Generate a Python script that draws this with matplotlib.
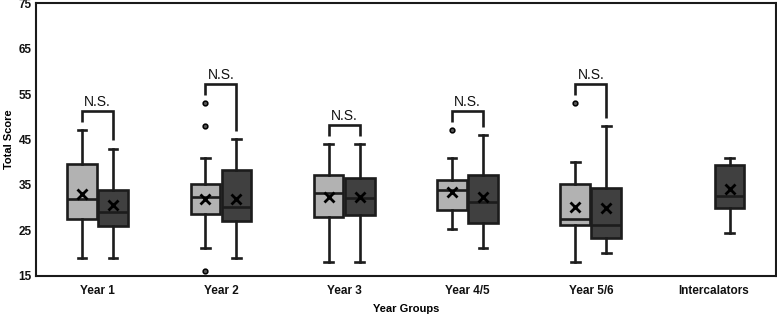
import matplotlib
matplotlib.use("Agg")
import matplotlib.pyplot as plt
import numpy as np

plt.rcParams['font.family'] = ['Liberation Sans', 'DejaVu Sans']

categories = ["Year 1", "Year 2", "Year 3", "Year 4/5", "Year 5/6", "Intercalators"]

# Light (first cohort) box statistics, None where absent
light_lo   = [19, 21, 18, 25.3, 18, None]
light_q1   = [27.6, 28.7, 28.0, 29.4, 26.2, None]
light_med  = [32.0, 32.3, 33.2, 33.8, 27.6, None]
light_q3   = [39.7, 35.2, 37.1, 36.0, 35.1, None]
light_hi   = [47, 41, 44, 41, 40, None]
light_mean = [32.9, 31.9, 32.4, 33.5, 30.1, None]
light_fliers = [[], [53, 48, 16], [], [47], [53], []]

# Dark (second cohort) box statistics
dark_lo   = [19, 19, 18, 21, 20, 24.3]
dark_q1   = [26.0, 27.1, 28.3, 26.5, 23.2, 30.0]
dark_med  = [29.0, 30.2, 32.1, 31.3, 26.2, 32.5]
dark_q3   = [33.8, 38.2, 36.6, 37.1, 34.4, 39.3]
dark_hi   = [43, 45, 44, 46, 48, 41]
dark_mean = [30.5, 32.0, 32.4, 32.4, 29.9, 34.0]
dark_fliers = [[], [], [], [], [], []]

sig_labels = ["N.S.", "N.S.", "N.S.", "N.S.", "N.S.", None]

yticks = [15, 25, 35, 45, 55, 65, 75]

light_color = "#b2b2b2"
dark_color = "#404040"
edge = "#1c1c1c"
lw = 1.9

fig = plt.figure(figsize=(7.77, 3.16), dpi=100)
ax = fig.add_axes([0.0463, 0.1275, 0.9520, 0.8621])

offset = 0.126
width = 0.24

def make_stats(lo, q1, med, q3, hi, mean, fl):
    return dict(whislo=lo, q1=q1, med=med, q3=q3, whishi=hi, mean=mean, fliers=fl)

def draw(stats, positions, color):
    ax.bxp(stats, positions=positions, widths=width, patch_artist=True,
           showmeans=True, showcaps=True, manage_ticks=False,
           boxprops=dict(facecolor=color, edgecolor=edge, linewidth=lw),
           medianprops=dict(color=edge, linewidth=lw),
           whiskerprops=dict(color=edge, linewidth=lw),
           capprops=dict(color=edge, linewidth=lw),
           capwidths=0.07,
           meanprops=dict(marker='x', markeredgecolor='black', markersize=6.5,
                          markeredgewidth=2.0),
           flierprops=dict(marker='o', markerfacecolor='#555555',
                           markeredgecolor='black', markersize=3.4,
                           markeredgewidth=1.1))

lstats, lpos, dstats, dpos = [], [], [], []
for i in range(len(categories)):
    if light_med[i] is not None:
        lstats.append(make_stats(light_lo[i], light_q1[i], light_med[i], light_q3[i],
                                 light_hi[i], light_mean[i], light_fliers[i]))
        lpos.append(i - offset)
    dstats.append(make_stats(dark_lo[i], dark_q1[i], dark_med[i], dark_q3[i],
                             dark_hi[i], dark_mean[i], dark_fliers[i]))
    dpos.append(i + offset)

draw(lstats, lpos, light_color)
draw(dstats, dpos, dark_color)

# significance brackets
for i, lab in enumerate(sig_labels):
    if lab is None:
        continue
    lmax = max([light_hi[i]] + light_fliers[i])
    dmax = max([dark_hi[i]] + dark_fliers[i])
    l_end = lmax + 1.8
    r_end = dmax + 1.8
    top = max(l_end, r_end) + 2.4
    ax.plot([i - offset, i - offset, i + offset, i + offset],
            [l_end, top, top, r_end], color=edge, linewidth=lw,
            solid_joinstyle='miter', solid_capstyle='butt')
    ax.text(i, top + 0.5, lab, ha='center', va='bottom', fontsize=10,
            color='#111111')

ax.set_xlim(-0.5, len(categories) - 0.5)
ax.set_ylim(15, 75)
ax.set_yticks(yticks)
ax.set_yticklabels([str(t) for t in yticks], fontweight='bold', fontsize=8.5)
ax.set_xticks(range(len(categories)))
ax.set_xticklabels(categories, fontweight='bold', fontsize=8.5)
ax.tick_params(axis='both', length=0, pad=7, colors='#111111')
ax.tick_params(axis='y', pad=3)
for s in ax.spines.values():
    s.set_linewidth(1.5)
    s.set_color('#1a1a1a')

ax.set_xlabel("Year Groups", fontweight='bold', fontsize=8, labelpad=5)
ax.set_ylabel("Total Score", fontweight='bold', fontsize=8, labelpad=3)

fig.savefig("out.png", dpi=100)
